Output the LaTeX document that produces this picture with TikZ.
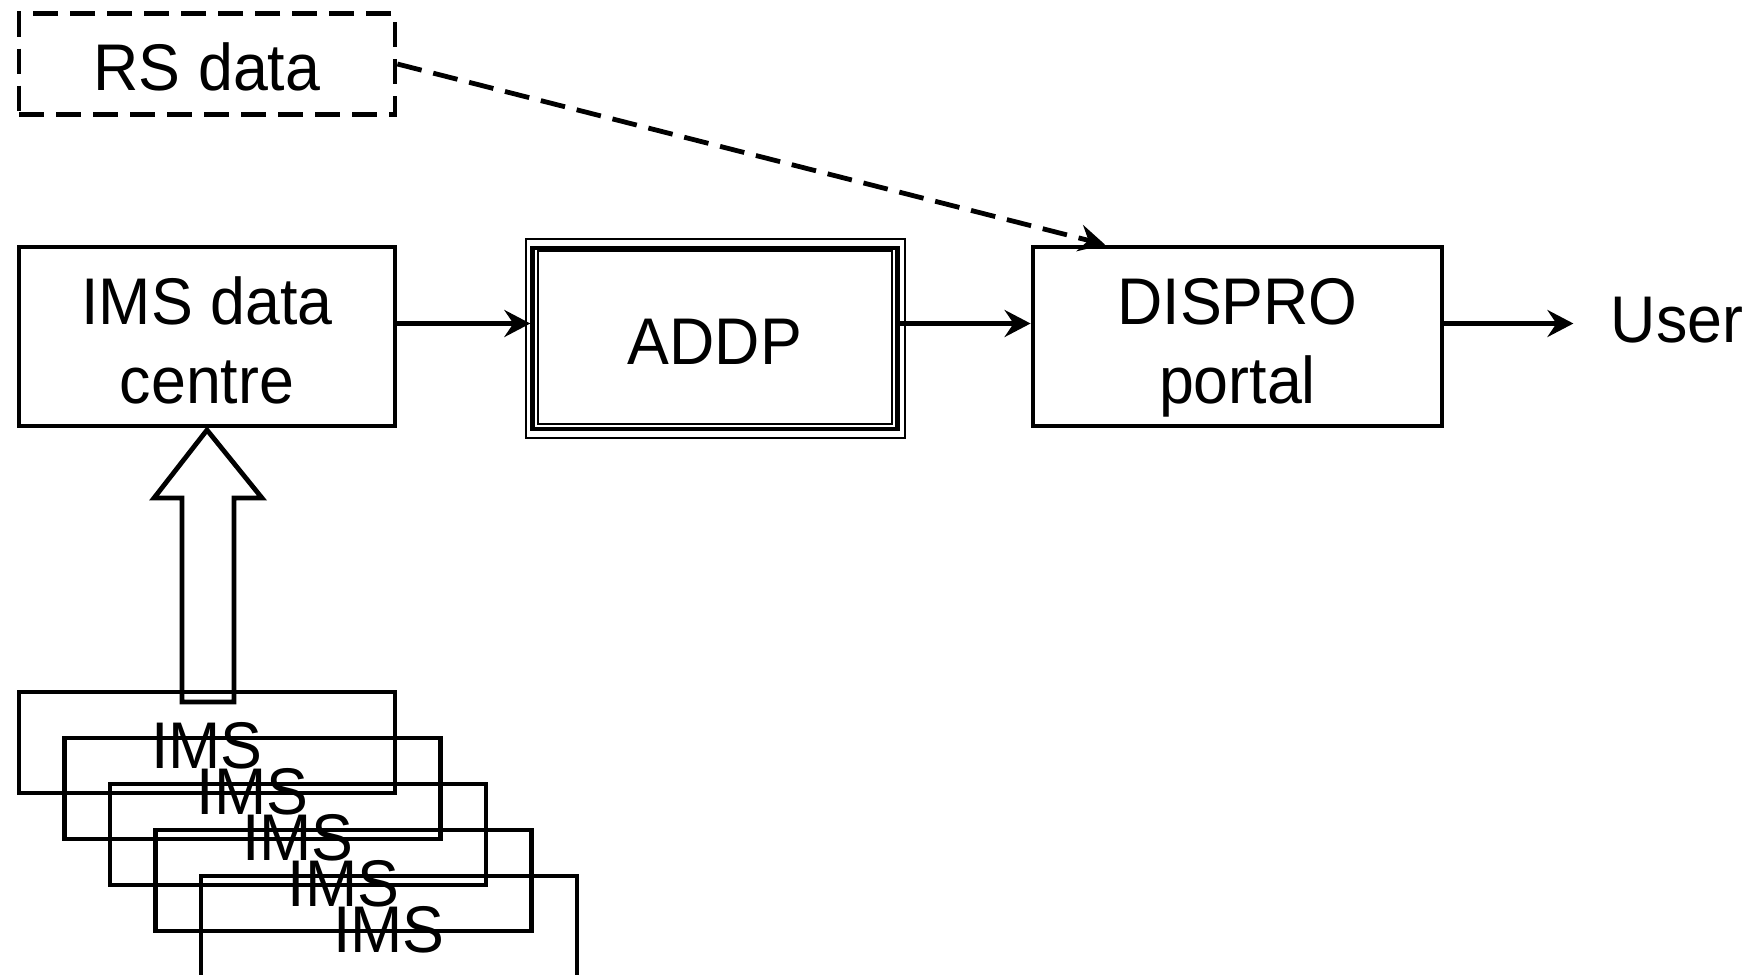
\documentclass[tikz,border=0pt]{standalone}
\usepackage{fontspec}
\setmainfont{Liberation Sans}[FakeStretch=0.95]
\usetikzlibrary{arrows.meta}

\begin{document}
\begin{tikzpicture}[
    x=0.5pt, y=-0.5pt,
    line width=2.4pt,
    every node/.style={font=\fontsize{33}{39.5}\selectfont},
    blk/.style={draw, rectangle, inner sep=0pt, align=center},
    oneline/.style={text height=27pt, text depth=0.8pt},
    wide/.style={blk, oneline, minimum width=188pt, minimum height=50.5pt},
    tall/.style={blk, minimum height=89.5pt},
    flow/.style={-{Stealth[length=13pt, width=13.5pt, inset=4.5pt]}},
    dashline/.style={dash pattern=on 12.5pt off 6pt},
    thinline/.style={line width=1pt}
  ]
  \useasboundingbox (0,0) rectangle (1758,975);

  % stack of data sources
  \foreach \k in {0,...,4} {
    \node[wide] (ims\k) at (207+45.5*\k, 742.5+46*\k) {IMS};
  }

  % main chain
  \node[wide, dashline] (rs) at (207, 64) {RS data};
  \node[tall, minimum width=188pt] (imsdc) at (207, 336.5)
    {\rule{0pt}{28pt}IMS data\\centre};
  \node[blk, oneline, minimum width=182.25pt, minimum height=90.5pt] (addp) at (715, 338.5) {ADDP};
  \node[tall, minimum width=204.5pt] (dispro) at (1237.5, 336.5)
    {\rule{0pt}{27pt}DISPRO\\\raisebox{0pt}[\height][0pt]{portal}};
  \node[oneline, inner xsep=17.5pt, inner ysep=0pt] (user) at (1677, 316) {User};

  % triple frame around ADDP
  \draw[thinline] ([shift={(-2.4pt,3.5pt)}]addp.north west) rectangle ([shift={(2.6pt,-3.2pt)}]addp.south east);
  \draw[thinline] ([shift={(3.6pt,-2.8pt)}]addp.north west) rectangle ([shift={(-4pt,3.8pt)}]addp.south east);

  % connectors
  \draw[flow] ([yshift=6.5pt]imsdc.east) -- ([yshift=7.5pt]addp.west);
  \draw[flow] ([yshift=7.5pt]addp.east) -- ([yshift=6.5pt]dispro.west);
  \draw[flow] ([yshift=6.5pt]dispro.east) coordinate (dout) -- (dout -| user.west);
  \draw[flow, dashline] (rs.east) -- ([xshift=-66.25pt]dispro.north);

  % block arrow from the stations up to the data centre
  \draw[line join=miter] ([yshift=-0.8pt]imsdc.south) -- ++(55,68) -- ++(-28,0) -- ++(0,204)
    -- ++(-52,0) -- ++(0,-204) -- ++(-28,0) -- cycle;
\end{tikzpicture}
\end{document}
